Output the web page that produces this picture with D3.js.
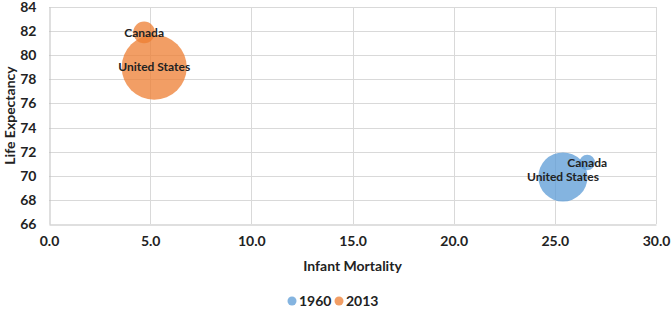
<!DOCTYPE html>
<html>
<head>
<meta charset="utf-8">
<script src="https://cdn.jsdelivr.net/npm/d3@7"></script>
<style>
  body { margin: 0; background: #fff; }
  svg text { font-family: Lato, "Open Sans", sans-serif; font-weight: bold; fill: #222; }
</style>
</head>
<body>
<svg id="chart" width="671" height="309"></svg>
<script>
// series
const years = ["1960", "2013"];
const countries = ["United States", "Canada"];
const mortality1960 = [25.4, 26.6];
const lifeExp1960 = [69.9, 71.1];
const population1960 = [180.7, 17.9];
const mortality2013 = [5.2, 4.7];
const lifeExp2013 = [79.0, 81.9];
const population2013 = [316.1, 35.2];

const xTicks = [0, 5, 10, 15, 20, 25, 30];
const yTicks = [66, 68, 70, 72, 74, 76, 78, 80, 82, 84];
const colors = ["#5B9BD5", "#ED7D31"];

const points = [];
countries.forEach((c, i) => {
    points.push({ year: years[0], name: c, x: mortality1960[i], y: lifeExp1960[i], size: population1960[i] });
    points.push({ year: years[1], name: c, x: mortality2013[i], y: lifeExp2013[i], size: population2013[i] });
});
// big bubbles first so the small ones sit on top
points.sort((a, b) => b.size - a.size);

var svg = d3.select("#chart");
var padL = 49, padR = 656, padT = 7, padB = 224;

var scX = d3.scaleLinear().domain([0, 30]).range([padL, padR]),
    scY = d3.scaleLinear().domain([66, 84]).range([padB, padT]),
    scR = d3.scaleSqrt().domain([0, d3.max(points, d => d.size)]).range([0, 32.5]);
var scC = d3.scaleOrdinal().domain(years).range(colors);

// grid
svg.append("g").selectAll("line").data(xTicks.slice(1)).join("line")
    .attr("x1", d => Math.round(scX(d)) + 0.5).attr("x2", d => Math.round(scX(d)) + 0.5)
    .attr("y1", padT).attr("y2", padB)
    .attr("stroke", "#d9d9d9");
svg.append("g").selectAll("line").data(yTicks.slice(1)).join("line")
    .attr("x1", padL).attr("x2", padR)
    .attr("y1", d => Math.round(scY(d)) + 0.5).attr("y2", d => Math.round(scY(d)) + 0.5)
    .attr("stroke", "#d9d9d9");

// axes
var xAxis = svg.append("g").attr("transform", `translate(0,${padB + 0.5})`)
    .call(d3.axisBottom(scX).tickValues(xTicks).tickFormat(d3.format(".1f")).tickSize(0).tickPadding(12));
var yAxis = svg.append("g").attr("transform", `translate(${padL + 0.5},0)`)
    .call(d3.axisLeft(scY).tickValues(yTicks).tickSize(0).tickPadding(13));
[xAxis, yAxis].forEach(a => {
    a.select(".domain").attr("stroke", "#bfbfbf");
    a.selectAll("text").style("font-size", "14px").style("font-family", "Lato, sans-serif").attr("fill", "#222");
});

// bubbles
svg.append("g").selectAll("circle").data(points).join("circle")
    .attr("cx", d => scX(d.x)).attr("cy", d => scY(d.y)).attr("r", d => scR(d.size))
    .attr("fill", d => scC(d.year)).attr("fill-opacity", 0.75);

svg.append("g").selectAll("text").data(points).join("text")
    .attr("x", d => scX(d.x)).attr("y", d => scY(d.y)).attr("dy", "0.35em")
    .attr("text-anchor", "middle").style("font-size", "12px")
    .text(d => d.name);

// axis titles
svg.append("text").attr("x", (padL + padR) / 2).attr("y", 271)
    .attr("text-anchor", "middle").style("font-size", "14px").text("Infant Mortality");
svg.append("text").attr("transform", `translate(15,${(padT + padB) / 2}) rotate(-90)`)
    .attr("text-anchor", "middle").style("font-size", "14px").text("Life Expectancy");

// legend
var lg = svg.append("g").selectAll("g").data(years).join("g")
    .attr("transform", (d, i) => `translate(${292 + i * 47},301)`);
lg.append("circle").attr("r", 4.5).attr("fill", d => scC(d)).attr("fill-opacity", 0.75);
lg.append("text").attr("x", 7).attr("dy", "0.35em").style("font-size", "14px").text(d => d);
</script>
</body>
</html>
